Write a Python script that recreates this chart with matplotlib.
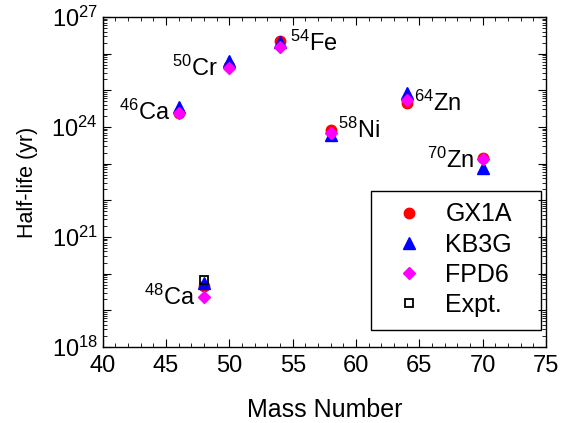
import numpy as np
import matplotlib
matplotlib.use("Agg")
import matplotlib.pyplot as plt
from matplotlib.patches import Rectangle
from matplotlib.ticker import LogLocator, MultipleLocator, FuncFormatter, NullFormatter

plt.rcParams['font.family'] = ['Liberation Sans', 'DejaVu Sans']
plt.rcParams['mathtext.fontset'] = 'custom'
plt.rcParams['mathtext.rm'] = 'Liberation Sans'
plt.rcParams['mathtext.it'] = 'Liberation Sans'

# mass numbers and log10 half-lives (yr)
mass = [46, 48, 50, 54, 58, 64, 70]
gx1a = [24.38, 19.65, 25.65, 26.35, 23.92, 24.65, 23.15]
kb3g = [24.55, 19.75, 25.80, 26.32, 23.78, 24.93, 22.88]
fpd6 = [24.38, 19.36, 25.61, 26.18, 23.84, 24.74, 23.13]
expt_mass = [48]
expt = [19.83]

labels = ["$^{46}$Ca", "$^{48}$Ca", "$^{50}$Cr", "$^{54}$Fe", "$^{58}$Ni", "$^{64}$Zn", "$^{70}$Zn"]
label_x = [41.3, 47.35, 49.1, 54.8, 58.6, 64.6, 69.3]
label_y = [24.41, 19.36, 25.61, 26.29, 23.92, 24.65, 23.1]
label_ha = ["left", "right", "right", "left", "left", "left", "right"]

fig = plt.figure(figsize=(5.84, 4.23), dpi=100)
ax = fig.add_axes([0.176, 0.180, 0.759, 0.780])

ax.plot(mass, 10.0 ** np.array(gx1a), 'o', color='red', ms=7.5, label='GX1A')
ax.plot(mass, 10.0 ** np.array(kb3g), '^', color='blue', ms=8, label='KB3G')
ax.plot(mass, 10.0 ** np.array(fpd6), 'D', color='magenta', ms=6, label='FPD6')
ax.plot(expt_mass, 10.0 ** np.array(expt), 's', mfc='none', mec='black', mew=1.3, ms=5.5, label='Expt.')

for x, y, t, ha in zip(label_x, label_y, labels, label_ha):
    ax.text(x, 10.0 ** y, t, fontsize=17, ha=ha, va='center')

ax.set_yscale('log')
ax.set_xlim(40, 75)
ax.set_ylim(1e18, 1e27)
ax.xaxis.set_major_locator(MultipleLocator(5))
ax.xaxis.set_minor_locator(MultipleLocator(1))
ax.yaxis.set_major_locator(LogLocator(base=10, numticks=20))
ax.yaxis.set_minor_locator(LogLocator(base=10, subs=np.arange(2, 10), numticks=20))
ax.yaxis.set_minor_formatter(NullFormatter())

def fmt(v, pos):
    e = int(round(np.log10(v)))
    return r"$10^{%d}$" % e if e % 3 == 0 else ""

ax.yaxis.set_major_formatter(FuncFormatter(fmt))
ax.tick_params(which='both', direction='in', top=True, right=True, labelsize=17)
ax.tick_params(axis='x', pad=6)
ax.tick_params(which='major', length=6)
ax.tick_params(which='minor', length=3)
for s in ax.spines.values():
    s.set_linewidth(1.0)

ax.set_xlabel("Mass Number", fontsize=18, labelpad=15)
ax.set_ylabel("Half-life (yr)", fontsize=15.5, labelpad=10)

# legend entries without their own frame, plus a wider box drawn round them
leg = ax.legend(loc='center', fontsize=18, frameon=False,
                borderpad=0.45, handletextpad=0.36, labelspacing=0.25,
                handlelength=2.16, bbox_to_anchor=(0.777, 0.264))
ax.add_patch(Rectangle((0.605, 0.0515), 0.384, 0.4215, transform=ax.transAxes,
                       fill=False, edgecolor='black', lw=1.0, zorder=5))

fig.savefig("out.png", dpi=100)
